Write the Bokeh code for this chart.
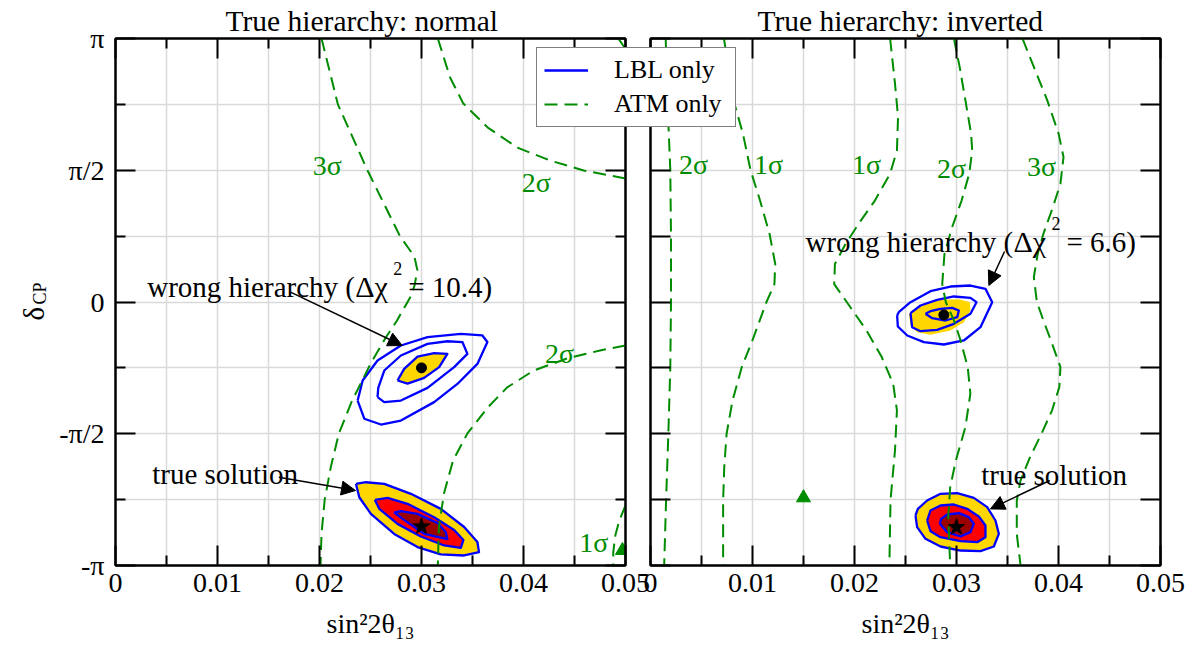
import numpy as np
from bokeh.plotting import figure
from bokeh.layouts import row, column
from bokeh.models import (Range1d, FixedTicker, LinearAxis, Label, Arrow, NormalHead,
                          Legend, LegendItem)
from bokeh.embed import file_html
from bokeh.resources import INLINE

# ---------------- axes / ticks (y in units of pi) ----------------
x_ticks = [0.0, 0.01, 0.02, 0.03, 0.04, 0.05]
x_tick_labels = ["0", "0.01", "0.02", "0.03", "0.04", "0.05"]
x_minor = [0.005, 0.015, 0.025, 0.035, 0.045]
y_ticks = [-1.0, -0.5, 0.0, 0.5, 1.0]
y_tick_labels = ["-π", "-π/2", "0", "π/2", "π"]
y_minor = [-0.75, -0.25, 0.25, 0.75]
x_axis_label = "sin²2θ₁₃"
titles = ["True hierarchy: normal", "True hierarchy: inverted"]
legend_labels = ["LBL only", "ATM only"]

# ---------------- left panel: true hierarchy normal ----------------
n_atm3_x = [0.0202, 0.0218, 0.0247, 0.0279, 0.0293, 0.0296, 0.0293, 0.0289, 0.0276, 0.0265, 0.0250, 0.0232, 0.0219, 0.0211, 0.0205, 0.0202, 0.0201]
n_atm3_y = [1.0, 0.75, 0.5, 0.249, 0.173, 0.12, 0.06, 0.018, -0.070, -0.135, -0.235, -0.374, -0.499, -0.628, -0.753, -0.879, -1.0]
n_atm2a_x = [0.0316, 0.0328, 0.0341, 0.0365, 0.0394, 0.0426, 0.0459, 0.0500]
n_atm2a_y = [1.0, 0.852, 0.753, 0.662, 0.586, 0.537, 0.499, 0.469]
n_atm2b_x = [0.0500, 0.0475, 0.0443, 0.0410, 0.0384, 0.0365, 0.0345, 0.0331, 0.0322, 0.0317, 0.0316]
n_atm2b_y = [-0.165, -0.184, -0.214, -0.260, -0.324, -0.400, -0.499, -0.601, -0.727, -0.856, -1.0]
n_atm1_x = [0.0500, 0.0494, 0.0490, 0.0488, 0.0488]
n_atm1_y = [-0.772, -0.829, -0.886, -0.950, -1.0]
n_atmc_x = [0.0493, 0.0500]
n_atmc_y = [1.0, 0.96]

n_wr_out_x = [0.02374, 0.02439, 0.02602, 0.02798, 0.03124, 0.03352, 0.03548, 0.03646, 0.03597, 0.03385, 0.03059, 0.02798, 0.02569, 0.02423, 0.02374]
n_wr_out_y = [-0.374, -0.443, -0.465, -0.450, -0.380, -0.311, -0.235, -0.152, -0.127, -0.121, -0.133, -0.165, -0.222, -0.298, -0.374]
n_wr_mid_x = [0.02569, 0.02635, 0.02798, 0.03059, 0.03320, 0.03450, 0.03401, 0.03254, 0.03059, 0.02798, 0.02635, 0.02576, 0.02569]
n_wr_mid_y = [-0.361, -0.380, -0.374, -0.326, -0.247, -0.197, -0.152, -0.149, -0.159, -0.203, -0.260, -0.326, -0.361]
n_wr_in_x = [0.02765, 0.02863, 0.03026, 0.03173, 0.03254, 0.03124, 0.02961, 0.02830, 0.02765]
n_wr_in_y = [-0.298, -0.310, -0.288, -0.247, -0.197, -0.194, -0.207, -0.254, -0.298]

n_tr_out_x = [0.02357, 0.02390, 0.02504, 0.02732, 0.02961, 0.03189, 0.03418, 0.03564, 0.03548, 0.03418, 0.03189, 0.02896, 0.02635, 0.02455, 0.02357]
n_tr_out_y = [-0.690, -0.741, -0.804, -0.880, -0.930, -0.958, -0.962, -0.949, -0.911, -0.854, -0.785, -0.728, -0.690, -0.684, -0.690]
n_tr_mid_x = [0.02543, 0.02586, 0.02765, 0.02993, 0.03222, 0.03385, 0.03411, 0.03320, 0.03124, 0.02863, 0.02667, 0.02543]
n_tr_mid_y = [-0.751, -0.785, -0.842, -0.890, -0.924, -0.933, -0.903, -0.865, -0.817, -0.766, -0.743, -0.751]
n_tr_in_x = [0.02732, 0.02814, 0.03026, 0.03254, 0.03238, 0.03157, 0.02961, 0.02798, 0.02732]
n_tr_in_y = [-0.798, -0.823, -0.880, -0.900, -0.873, -0.839, -0.804, -0.794, -0.798]

n_true_pt = (0.0300, -0.852)
n_wrong_pt = (0.0300, -0.250)
n_atm_pt = (0.0497, -0.943)

# ---------------- right panel: true hierarchy inverted ----------------
i_atmA_x = [0.00149, 0.00168, 0.00194, 0.00201, 0.00201, 0.00194, 0.00175, 0.00153, 0.00134]
i_atmA_y = [1.0, 0.75, 0.5, 0.25, 0.0, -0.25, -0.5, -0.75, -1.0]
i_atmB_x = [0.00720, 0.00813, 0.00906, 0.00981, 0.01074, 0.01167, 0.01223, 0.01215, 0.01137, 0.00999, 0.00895, 0.00805, 0.00746, 0.00723, 0.00712, 0.00712]
i_atmB_y = [1.0, 0.766, 0.639, 0.5, 0.385, 0.259, 0.144, 0.068, 0.0, -0.146, -0.247, -0.373, -0.5, -0.627, -0.753, -1.0]
i_atmC_x = [0.02349, 0.02397, 0.02427, 0.02416, 0.02349, 0.02200, 0.02062, 0.01913, 0.01808, 0.01801, 0.01924, 0.02118, 0.02267, 0.02379, 0.02416, 0.02397, 0.02353, 0.02342]
i_atmC_y = [1.0, 0.829, 0.702, 0.575, 0.487, 0.385, 0.309, 0.221, 0.144, 0.068, 0.0, -0.108, -0.209, -0.310, -0.411, -0.563, -0.753, -1.0]
i_atmD_x = [0.02975, 0.03031, 0.03087, 0.03143, 0.03154, 0.03125, 0.03050, 0.02957, 0.02882, 0.02860, 0.02895, 0.02975, 0.03040, 0.03110, 0.03136, 0.03087, 0.02994, 0.02938, 0.02919, 0.02938]
i_atmD_y = [1.0, 0.892, 0.766, 0.639, 0.575, 0.487, 0.385, 0.284, 0.182, 0.068, 0.0, -0.070, -0.146, -0.247, -0.348, -0.475, -0.601, -0.703, -0.816, -1.0]
i_atmE_x = [0.03647, 0.03758, 0.03889, 0.04001, 0.04049, 0.04019, 0.03945, 0.03852, 0.03796, 0.03758, 0.03788, 0.03852, 0.03926, 0.04019, 0.04008, 0.03937, 0.03833, 0.03721, 0.03628, 0.03591, 0.03591, 0.03628]
i_atmE_y = [1.0, 0.892, 0.766, 0.639, 0.550, 0.449, 0.360, 0.259, 0.182, 0.094, 0.0, -0.070, -0.146, -0.247, -0.323, -0.411, -0.5, -0.589, -0.677, -0.753, -0.880, -1.0]

i_wr_out_x = [0.02418, 0.02425, 0.02517, 0.02680, 0.02876, 0.03072, 0.03235, 0.03350, 0.03284, 0.03137, 0.02941, 0.02745, 0.02549, 0.02434, 0.02418]
i_wr_out_y = [-0.0512, -0.0930, -0.1271, -0.1524, -0.1613, -0.1461, -0.0955, -0.0007, 0.0500, 0.0626, 0.0588, 0.0410, -0.0007, -0.0387, -0.0512]
i_wr_mid_x = [0.02549, 0.02565, 0.02647, 0.02810, 0.02974, 0.03137, 0.03196, 0.03137, 0.02974, 0.02810, 0.02647, 0.02549]
i_wr_mid_y = [-0.0425, -0.0955, -0.1107, -0.1056, -0.0829, -0.0449, -0.0007, 0.0159, 0.0209, 0.0083, -0.0133, -0.0425]
i_wr_fill_x = [0.02533, 0.02549, 0.02614, 0.02745, 0.02941, 0.03072, 0.03137, 0.03131, 0.03023, 0.02843, 0.02680, 0.02565]
i_wr_fill_y = [-0.0449, -0.0892, -0.1145, -0.1245, -0.1082, -0.0766, -0.0323, -0.0007, 0.0108, 0.0083, -0.0108, -0.0349]
i_wr_in_x = [0.02696, 0.02762, 0.02892, 0.03007, 0.03023, 0.02958, 0.02843, 0.02745, 0.02696]
i_wr_in_y = [-0.0449, -0.0615, -0.0702, -0.0576, -0.0323, -0.0222, -0.0260, -0.0349, -0.0449]

i_tr_out_x = [0.02598, 0.02614, 0.02696, 0.02843, 0.03039, 0.03235, 0.03366, 0.03415, 0.03382, 0.03301, 0.03170, 0.03007, 0.02843, 0.02712, 0.02621, 0.02598]
i_tr_out_y = [-0.8102, -0.8545, -0.8988, -0.9279, -0.9431, -0.9456, -0.9279, -0.8798, -0.8292, -0.7786, -0.7432, -0.7255, -0.7280, -0.7533, -0.7849, -0.8102]
i_tr_mid_x = [0.02712, 0.02745, 0.02843, 0.03039, 0.03203, 0.03284, 0.03284, 0.03219, 0.03105, 0.02974, 0.02843, 0.02745, 0.02712]
i_tr_mid_y = [-0.8292, -0.8697, -0.8925, -0.9077, -0.9115, -0.8925, -0.8482, -0.8140, -0.7849, -0.7685, -0.7723, -0.7913, -0.8292]
i_tr_in_x = [0.02837, 0.02908, 0.03039, 0.03137, 0.03170, 0.03121, 0.03023, 0.02908, 0.02849, 0.02837]
i_tr_in_y = [-0.8418, -0.8735, -0.8899, -0.8735, -0.8418, -0.8166, -0.8014, -0.8065, -0.8229, -0.8418]

i_true_pt = (0.0300, -0.8545)
i_wrong_pt = (0.02876, -0.049)
i_atm_pt = (0.0150, -0.743)

# ---------------- annotations inside the panels (data coordinates) ----------------
n_sigma_labels = [("3σ", 0.02076, 0.518), ("2σ", 0.04125, 0.4547), ("2σ", 0.04353, -0.1954), ("1σ", 0.04689, -0.9115)]
i_sigma_labels = [("2σ", 0.00422, 0.5237), ("1σ", 0.01157, 0.5237), ("1σ", 0.02118, 0.5237), ("2σ", 0.02951, 0.5066), ("3σ", 0.03833, 0.5142)]

n_wrong_text = [("wrong hierarchy (", 0.003108, 0.0588, "29px"), ("Δχ", 0.023500, 0.0588, "30px"),
                ("2", 0.027226, 0.1271, "18px"), ("= 10.4)", 0.028696, 0.0588, "29px")]
i_wrong_text = [("wrong hierarchy (", 0.015196, 0.2296, "29px"), ("Δχ", 0.035588, 0.2296, "30px"),
                ("2", 0.039314, 0.2979, "18px"), ("= 6.6)", 0.040784, 0.2296, "29px")]
n_true_text = ("true solution", 0.0036, -0.6509)
i_true_text = ("true solution", 0.03242, -0.6584)

n_arrows = [(0.01716, 0.0373, 0.02811, -0.1651), (0.01601, -0.6649, 0.02353, -0.7154)]
i_arrows = [(0.03471, 0.1917, 0.03317, 0.0626), (0.03915, -0.6774, 0.03333, -0.7852)]

# y-axis label pieces (page pixels: x of baseline, y of text start; rotated)
y_label_pieces = [("δ", 33, 320, "29px"), ("CP", 39, 304, "18px")]

# ---------------- styling ----------------
PAGE_W, PAGE_H = 1196, 651
FW, FH = 510, 527
BT, BB = 38, 86
GREEN = "#008c00"
BLUE = "#0000ff"
GOLD = "#ffd700"
RED = "#ff0000"
DARKRED = "#9b0000"
FONT = "Liberation Serif"
DASH = "13 7"


def setup_axis(ax, ticks, minor, major_len, minor_len, labels, show=True):
    ax.ticker = FixedTicker(ticks=ticks, minor_ticks=minor)
    ax.major_tick_in = major_len
    ax.major_tick_out = 0
    ax.minor_tick_in = minor_len
    ax.minor_tick_out = 0
    ax.axis_line_color = "black"
    ax.axis_line_width = 2
    ax.major_tick_line_color = "black"
    ax.major_tick_line_width = 2
    ax.minor_tick_line_color = "black"
    ax.minor_tick_line_width = 2
    ax.major_label_text_font = FONT
    ax.major_label_text_color = "black"
    ax.major_label_overrides = {t: l for t, l in zip(ticks, labels)}
    if show:
        ax.major_label_text_font_size = "28px"
    else:
        ax.major_label_text_font_size = "0px"
        ax.major_label_standoff = 0


def make_panel(b_left, b_right, y_labelled, title, title_offset):
    p = figure(width=b_left + FW + b_right, height=BT + FH + BB, frame_width=FW, frame_height=FH,
               x_range=Range1d(0, 0.05), y_range=Range1d(-1, 1),
               min_border_left=b_left, min_border_right=b_right,
               min_border_top=BT, min_border_bottom=BB, title=title,
               output_backend="svg", toolbar_location=None)
    p.title.text_font = FONT
    p.title.text_font_size = "29.5px"
    p.title.text_font_style = "normal"
    p.title.text_color = "black"
    p.title.align = "left"
    p.title.standoff = 4
    p.title.offset = title_offset
    p.outline_line_color = "black"
    p.outline_line_width = 2
    p.background_fill_color = "white"
    xa = p.xaxis[0]
    setup_axis(xa, x_ticks, x_minor, 20, 10, x_tick_labels)
    xa.major_label_standoff = 8
    xa.axis_label = x_axis_label
    xa.axis_label_text_font = FONT
    xa.axis_label_text_font_size = "28px"
    xa.axis_label_text_font_style = "normal"
    xa.axis_label_text_color = "black"
    xa.axis_label_standoff = 13
    top = LinearAxis()
    setup_axis(top, x_ticks, x_minor, 20, 10, [""] * len(x_ticks), show=False)
    p.add_layout(top, "above")
    right_ax = LinearAxis()
    if y_labelled:
        setup_axis(p.yaxis[0], y_ticks, y_minor, 20, 10, y_tick_labels)
        p.yaxis[0].major_label_standoff = 11
        setup_axis(right_ax, y_ticks, y_minor, 20, 10, [""] * len(y_ticks), show=False)
    else:
        allq = sorted(y_ticks + y_minor)
        setup_axis(p.yaxis[0], allq, [], 20, 0, [""] * len(allq), show=False)
        setup_axis(right_ax, allq, [], 20, 0, [""] * len(allq), show=False)
    p.add_layout(right_ax, "right")
    p.xgrid.ticker = FixedTicker(ticks=sorted(x_ticks + x_minor))
    p.ygrid.ticker = FixedTicker(ticks=sorted(y_ticks + y_minor))
    p.xgrid.grid_line_color = "#d9d9d9"
    p.ygrid.grid_line_color = "#d9d9d9"
    p.xgrid.grid_line_width = 1.5
    p.ygrid.grid_line_width = 1.5
    return p


def text(p, s, x, y, size, color="black", align="left", units="data", angle=0):
    p.add_layout(Label(x=x, y=y, x_units=units, y_units=units, text=s, text_font=FONT,
                       text_font_size=size, text_color=color, text_align=align,
                       text_baseline="alphabetic", angle=angle, angle_units="deg"))


def arrow(p, a):
    p.add_layout(Arrow(x_start=a[0], y_start=a[1], x_end=a[2], y_end=a[3],
                       line_color="black", line_width=1.5,
                       end=NormalHead(size=14, fill_color="black", line_color="black", line_width=1)))


def draw_panel(p, fills, blues, greens, pts, sigma, wrong_text, true_text, arrows):
    for xs, ys, c in fills:
        p.patch(xs, ys, fill_color=c, line_color=None)
    for xs, ys in blues:
        p.line(xs, ys, line_color=BLUE, line_width=2.3, line_join="round")
    for xs, ys in greens:
        p.line(xs, ys, line_color=GREEN, line_width=2, line_dash=DASH)
    wrong_pt, true_pt, atm_pt = pts
    p.scatter([wrong_pt[0]], [wrong_pt[1]], marker="circle", size=10, color="black")
    p.scatter([true_pt[0]], [true_pt[1]], marker="star", size=17, color="black")
    p.scatter([atm_pt[0]], [atm_pt[1]], marker="triangle", size=14, color=GREEN)
    for s, x, y in sigma:
        text(p, s, x, y, "28px", color=GREEN, align="center")
    for s, x, y, fs in wrong_text:
        text(p, s, x, y, fs)
    text(p, true_text[0], true_text[1], true_text[2], "29px")
    for a in arrows:
        arrow(p, a)


# ================= left panel =================
left = make_panel(115, 26, True, titles[0], 110)
draw_panel(left,
           [(n_wr_in_x, n_wr_in_y, GOLD), (n_tr_out_x, n_tr_out_y, GOLD),
            (n_tr_mid_x, n_tr_mid_y, RED), (n_tr_in_x, n_tr_in_y, DARKRED)],
           [(n_wr_out_x, n_wr_out_y), (n_wr_mid_x, n_wr_mid_y), (n_wr_in_x, n_wr_in_y),
            (n_tr_out_x, n_tr_out_y), (n_tr_mid_x, n_tr_mid_y), (n_tr_in_x, n_tr_in_y)],
           [(n_atm3_x, n_atm3_y), (n_atm2a_x, n_atm2a_y), (n_atm2b_x, n_atm2b_y),
            (n_atm1_x, n_atm1_y), (n_atmc_x, n_atmc_y)],
           (n_wrong_pt, n_true_pt, n_atm_pt), n_sigma_labels, n_wrong_text, n_true_text, n_arrows)

# ================= right panel =================
right = make_panel(130, 28, False, titles[1], 107)
right.border_fill_color = None
right.margin = (0, 0, 0, -131)
draw_panel(right,
           [(i_wr_fill_x, i_wr_fill_y, GOLD), (i_tr_out_x, i_tr_out_y, GOLD),
            (i_tr_mid_x, i_tr_mid_y, RED), (i_tr_in_x, i_tr_in_y, DARKRED)],
           [(i_wr_out_x, i_wr_out_y), (i_wr_mid_x, i_wr_mid_y), (i_wr_in_x, i_wr_in_y),
            (i_tr_out_x, i_tr_out_y), (i_tr_mid_x, i_tr_mid_y), (i_tr_in_x, i_tr_in_y)],
           [(i_atmA_x, i_atmA_y), (i_atmB_x, i_atmB_y), (i_atmC_x, i_atmC_y),
            (i_atmD_x, i_atmD_y), (i_atmE_x, i_atmE_y)],
           (i_wrong_pt, i_true_pt, i_atm_pt), i_sigma_labels, i_wrong_text, i_true_text, i_arrows)

panels = row(left, right)

# ======= transparent overlay: y-axis label with subscript, legend shared by both panels =======
ov = figure(width=PAGE_W, height=PAGE_H, x_range=Range1d(0, PAGE_W), y_range=Range1d(0, PAGE_H),
            x_axis_type=None, y_axis_type=None, min_border_left=0, min_border_right=0,
            min_border_top=0, min_border_bottom=0, output_backend="svg", toolbar_location=None)
ov.outline_line_color = None
ov.background_fill_color = None
ov.border_fill_color = None
ov.margin = (-PAGE_H, 0, 0, 0)
for s, x, y, fs in y_label_pieces:
    text(ov, s, x, PAGE_H - y, fs, angle=90)
nan2 = np.array([np.nan, np.nan])
lbl_proxy = ov.line(x=nan2, y=nan2, line_color=BLUE, line_width=2.3)
atm_proxy = ov.line(x=nan2, y=nan2, line_color=GREEN, line_width=2, line_dash=DASH)
legend = Legend(items=[LegendItem(label=legend_labels[0], renderers=[lbl_proxy]),
                       LegendItem(label=legend_labels[1], renderers=[atm_proxy])],
                location=(536, PAGE_H - 127), margin=0, padding=7, spacing=4,
                glyph_width=44, glyph_height=30, label_height=30, label_width=114,
                label_standoff=26, label_text_font=FONT, label_text_font_size="26px",
                label_text_color="black",
                border_line_color="black", border_line_width=1.5,
                background_fill_color="white", background_fill_alpha=1.0)
ov.add_layout(legend)

layout = column(panels, ov)
open("out.html", "w").write(file_html(layout, INLINE))
